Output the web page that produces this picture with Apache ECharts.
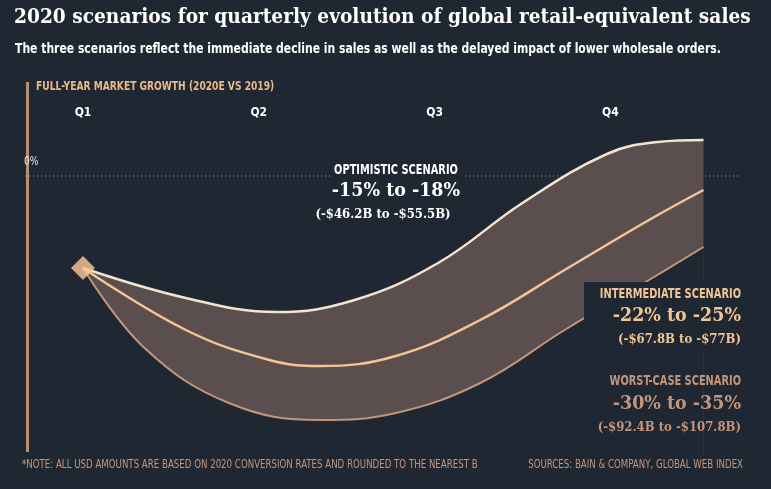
<!DOCTYPE html>
<html><head><meta charset="utf-8">
<script src="https://cdn.jsdelivr.net/npm/echarts@6/dist/echarts.min.js"></script>
<style>html,body{margin:0;background:#1f2832}#c{width:771px;height:489px}</style>
</head><body><div id="c"></div>
<script>
// x in quarters from Q1 (0), y in chart units (0 = 0% line)
const quarterLabels = ['Q1','Q2','Q3','Q4'];
const optimistic = [[0,-23],[0.585,-30.5],[1.1,-34],[1.545,-31],[2.02,-21.75],[2.5,-6.75],[2.98,5.5],[3.27,8.5],[3.53,9]];
const intermediate = [[0,-23],[0.585,-38.5],[1.06,-46],[1.35,-47.5],[1.78,-45],[2.26,-36],[2.74,-23.5],[3.22,-11],[3.53,-3.5]];
const worstCase = [[0,-23],[0.35,-43],[0.83,-56.75],[1.35,-61],[1.78,-59.25],[2.26,-51.75],[2.74,-38.5],[3.22,-26],[3.53,-17.75]];
const startPoint = [[0,-23]];

const BG='#1f2832';
const chart = echarts.init(document.getElementById('c'));
const cond = '"DejaVu Sans Condensed","Liberation Sans Narrow",sans-serif';
const serif = '"DejaVu Serif","Liberation Serif",serif';
function t(x,y,text,fill,font,align,sx){return {type:'text',x:x,y:y,scaleX:sx||0.78,z:10,style:{text:text,fill:fill,font:font,align:align||'left'}};}
chart.setOption({
  backgroundColor: BG,
  animation:false,
  grid:{left:83,right:64,top:126,bottom:33},
  xAxis:{type:'value',position:'top',min:0,max:3.55,interval:1,
    axisLine:{show:false},axisTick:{show:false},splitLine:{show:false},
    axisLabel:{margin:7,color:'#fff',fontFamily:cond,fontWeight:'bold',fontSize:12,
      formatter:v=>quarterLabels[Math.round(v)]||''}},
  yAxis:{type:'value',min:-70,max:12.5,show:false},
  series:[
    {type:'line',data:optimistic,smooth:0.4,symbol:'none',lineStyle:{color:'#f3e4d0',width:2.5},
     areaStyle:{color:'#5a4f4e',origin:'start',opacity:1},z:2},
    {type:'line',data:worstCase,smooth:0.4,symbol:'none',lineStyle:{color:'#c4957a',width:2},
     areaStyle:{color:BG,origin:'start',opacity:1},z:3},
    {type:'line',data:intermediate,smooth:0.4,symbol:'none',lineStyle:{color:'#f3c595',width:2.5},z:4},
    {type:'scatter',data:startPoint,symbol:'diamond',symbolSize:[24,24],itemStyle:{color:'#fcc896'},z:6}
  ],
  graphic:[
    t(14,8,'2020 scenarios for quarterly evolution of global retail-equivalent sales','#fff','bold 20px '+serif,'left',0.93),
    t(15,42,'The three scenarios reflect the immediate decline in sales as well as the delayed impact of lower wholesale orders.','#fff','bold 14px '+cond,'left',0.86),
    {type:'rect',shape:{x:26,y:82,width:3,height:370},style:{fill:'#b98f72'}},
    t(36,80,'FULL-YEAR MARKET GROWTH (2020E VS 2019)','#e8b98a','bold 13px '+cond),
    {type:'line',shape:{x1:25,y1:176,x2:738,y2:176},style:{stroke:'#9aa0a6',lineWidth:1,lineDash:[1,3]},z:1},
    t(24,155,'0%','#e8e8e8','13px '+cond),
    {type:'rect',shape:{x:330,y:163,width:132,height:15},style:{fill:BG},z:8},
    t(396,163,'OPTIMISTIC SCENARIO','#fff','bold 14px '+cond,'center'),
    t(396,182,'-15% to -18%','#fff','bold 19px '+serif,'center',0.92),
    t(383,208,'(-$46.2B to -$55.5B)','#fff','bold 13px '+serif,'center',0.9),
    {type:'rect',shape:{x:584,y:282,width:187,height:70},style:{fill:BG},z:8},
    t(741,287,'INTERMEDIATE SCENARIO','#f3c595','bold 14px '+cond,'right'),
    t(741,307,'-22% to -25%','#f3c595','bold 19px '+serif,'right',0.92),
    t(741,333,'(-$67.8B to -$77B)','#f3c595','bold 13px '+serif,'right',0.9),
    t(741,374,'WORST-CASE SCENARIO','#c4957a','bold 14px '+cond,'right'),
    t(741,395,'-30% to -35%','#c4957a','bold 19px '+serif,'right',0.92),
    t(741,421,'(-$92.4B to -$107.8B)','#c4957a','bold 13px '+serif,'right',0.9),
    t(22,459,'*NOTE: ALL USD AMOUNTS ARE BASED ON 2020 CONVERSION RATES AND ROUNDED TO THE NEAREST B','#c4957a','12px '+cond,'left',0.8),
    t(743,459,'SOURCES: BAIN & COMPANY, GLOBAL WEB INDEX','#c4957a','12px '+cond,'right',0.8)
  ]
});
</script></body></html>
